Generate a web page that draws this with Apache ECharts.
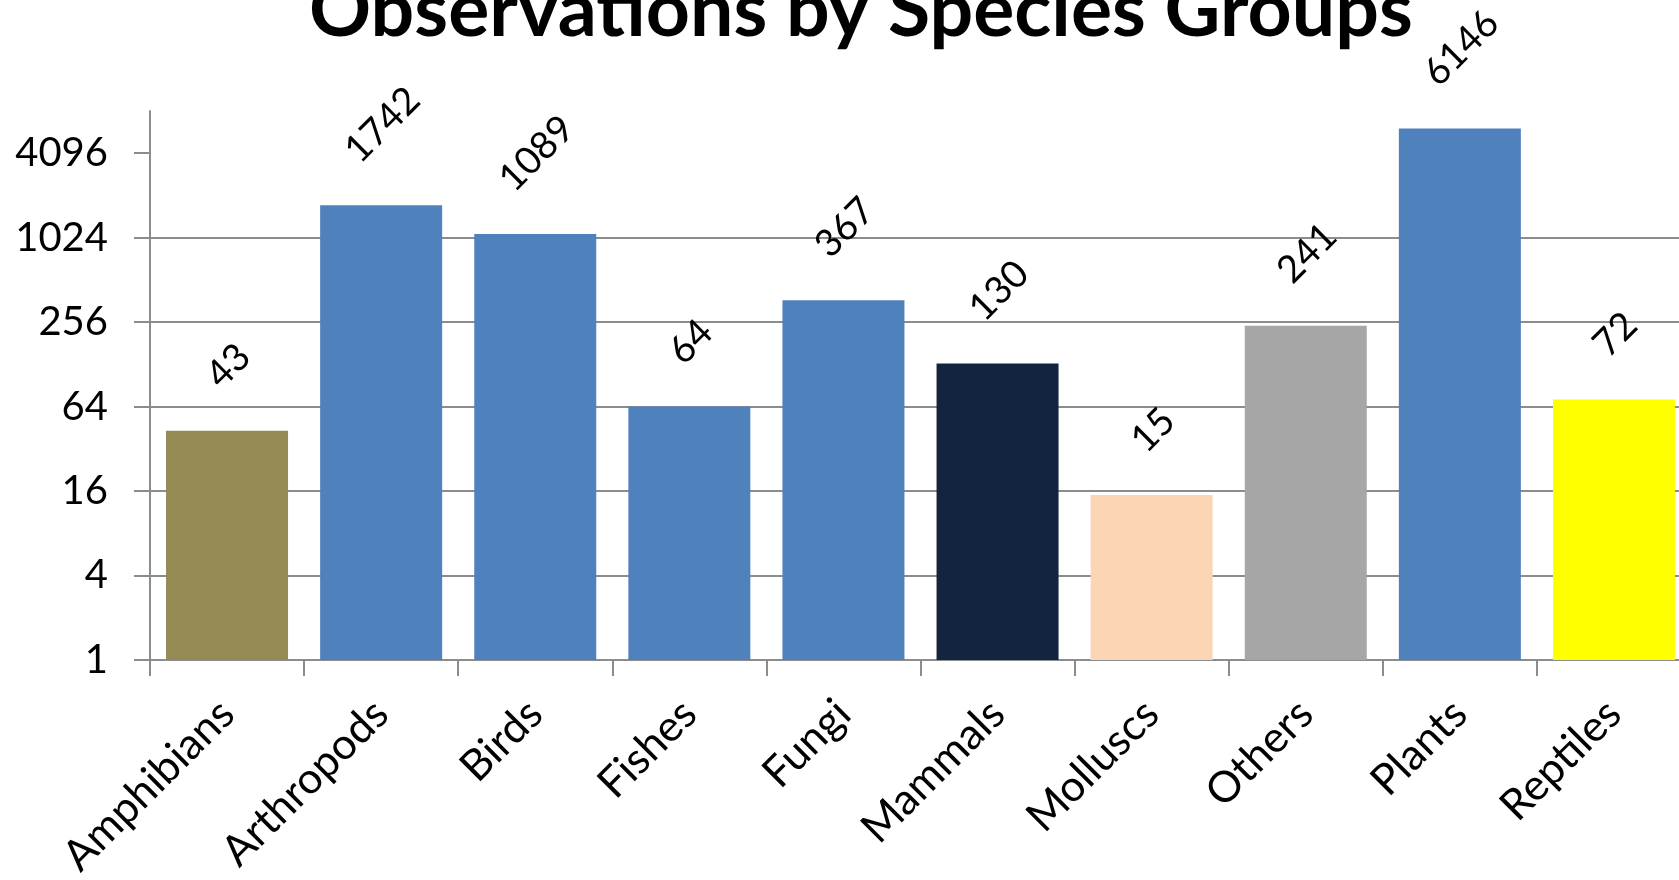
<!DOCTYPE html>
<html>
<head>
<meta charset="utf-8">
<script src="https://cdn.jsdelivr.net/npm/echarts@6/dist/echarts.min.js"></script>
<style>
html,body{margin:0;padding:0;background:#fff;}
#chart{width:1679px;height:880px;}
</style>
</head>
<body>
<div id="chart"></div>
<script>
const categories = ['Amphibians','Arthropods','Birds','Fishes','Fungi','Mammals','Molluscs','Others','Plants','Reptiles'];
const observations = [43, 1742, 1089, 64, 367, 130, 15, 241, 6146, 72];
const yTicks = [1, 4, 16, 64, 256, 1024, 4096];
const barColors = ['#948A54','#4F81BD','#4F81BD','#4F81BD','#4F81BD','#13243E','#FCD5B5','#A6A6A6','#4F81BD','#FFFF00'];
const titleText = 'Observations by Species Groups';

const FONT = 'Lato';
const labelSize = 38;
const titleSize = 77;
const cvs = document.createElement('canvas').getContext('2d');
function textWidth(txt, font){ cvs.font = font; return cvs.measureText(txt).width; }
function labelDistance(txt){
  const w = textWidth(txt, labelSize + 'px ' + FONT);
  return 39 + (w + 0.65*labelSize)/(2*Math.SQRT2);
}
const titleW = textWidth(titleText, 'bold ' + titleSize + 'px ' + FONT);

const chart = echarts.init(document.getElementById('chart'));
chart.setOption({
  animation:false,
  backgroundColor:'#fff',
  title:{
    text:titleText,
    left:Math.round(861 - titleW/2),
    top:-27,
    padding:0,
    textStyle:{fontFamily:FONT,fontWeight:'bold',fontSize:titleSize,color:'#000'}
  },
  grid:{left:150, top:111, bottom:220, width:1541, containLabel:false, outerBoundsMode:'none'},
  xAxis:{
    type:'category',
    data:categories,
    axisLine:{lineStyle:{color:'#8c8c8c',width:2}},
    axisTick:{show:true,length:16,lineStyle:{color:'#8c8c8c',width:2}},
    axisLabel:{rotate:45,margin:47,interval:0,fontFamily:FONT,fontSize:43,color:'#000'}
  },
  yAxis:{
    type:'log',
    logBase:4,
    min:1,
    max:8192,
    axisLine:{show:true,lineStyle:{color:'#8c8c8c',width:2}},
    axisTick:{show:true,length:16,customValues:yTicks,lineStyle:{color:'#8c8c8c',width:2}},
    axisLabel:{customValues:yTicks,margin:42,fontFamily:FONT,fontSize:40,color:'#000',
      formatter:v=>String(v)},
    splitLine:{show:true,showMaxLine:false,lineStyle:{color:'#8c8c8c',width:2}}
  },
  series:[{
    type:'bar',
    barWidth:122,
    data:observations.map((v,i)=>({
      value:v,
      itemStyle:{color:barColors[i]},
      label:{distance:labelDistance(String(v))}
    })),
    label:{
      show:true,position:'top',rotate:45,align:'center',verticalAlign:'middle',
      offset:[2,0],
      fontFamily:FONT,fontSize:labelSize,color:'#000'
    }
  }]
});
</script>
</body>
</html>
